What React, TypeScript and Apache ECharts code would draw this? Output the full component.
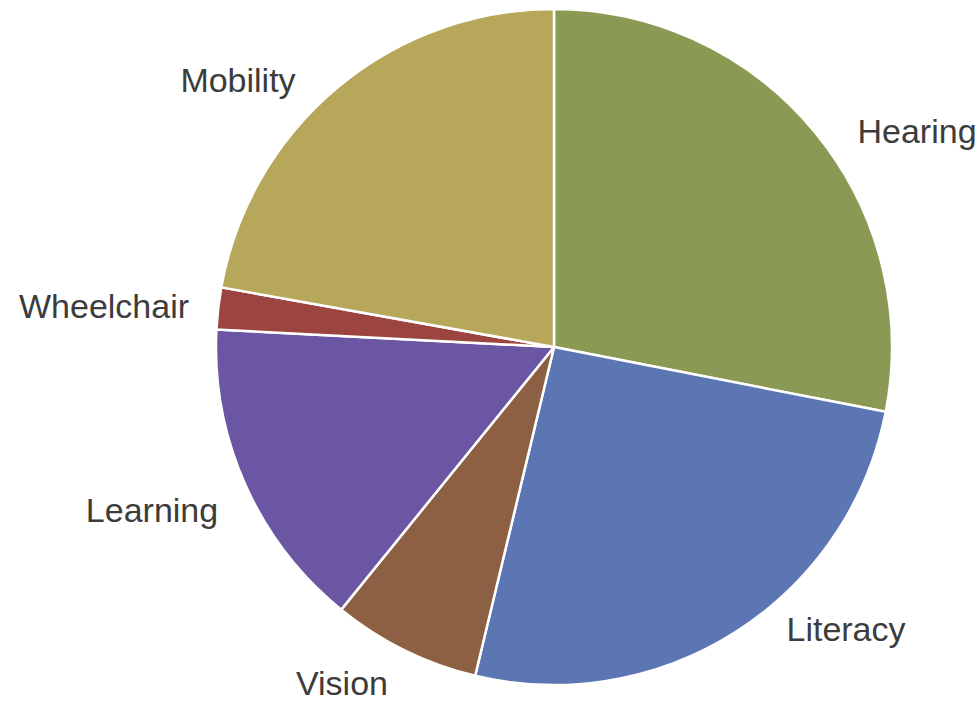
import React, { useEffect, useRef } from "react";
import * as echarts from "echarts";

const categories = ["Hearing", "Literacy", "Vision", "Learning", "Wheelchair", "Mobility"];
const values = [28.1, 25.7, 7.1, 15.0, 2.0, 22.2];
const colors = ["#8a9a55", "#5b76b3", "#8d5f43", "#6a56a3", "#9b4440", "#b7a75a"];
// label anchor points (pixels, text centres)
const labelX = [917, 846, 342, 152, 104, 238];
const labelY = [131, 629, 683, 510, 306, 80];

export default function App() {
  const ref = useRef<HTMLDivElement>(null);
  useEffect(() => {
    if (!ref.current) return;
    const chart = echarts.init(ref.current, undefined, { renderer: "svg" });
    chart.setOption({
      animation: false,
      backgroundColor: "#ffffff",
      series: [
        {
          type: "pie",
          center: [554, 347],
          radius: [0, 338],
          startAngle: 90,
          clockwise: true,
          data: categories.map((name, i) => ({
            name,
            value: values[i],
            itemStyle: { color: colors[i] },
          })),
          itemStyle: { borderColor: "#ffffff", borderWidth: 2.5 },
          label: {
            show: true,
            position: "outside",
            formatter: "{b}",
            color: "#3c3c3c",
            fontSize: 34,
            lineHeight: 36,
            overflow: "none",
            edgeDistance: 0,
            fontFamily: "Liberation Sans, Arial, sans-serif",
          },
          labelLine: { show: false },
          labelLayout: (params: any) => ({
            x: labelX[params.dataIndex],
            y: labelY[params.dataIndex],
            align: "center",
            verticalAlign: "middle",
            width: 230,
          }),
          emphasis: { disabled: true },
        },
      ],
    });
    return () => chart.dispose();
  }, []);
  return (
    <div
      ref={ref}
      style={{ position: "fixed", left: 0, top: 0, width: 979, height: 702, background: "#fff" }}
    />
  );
}
